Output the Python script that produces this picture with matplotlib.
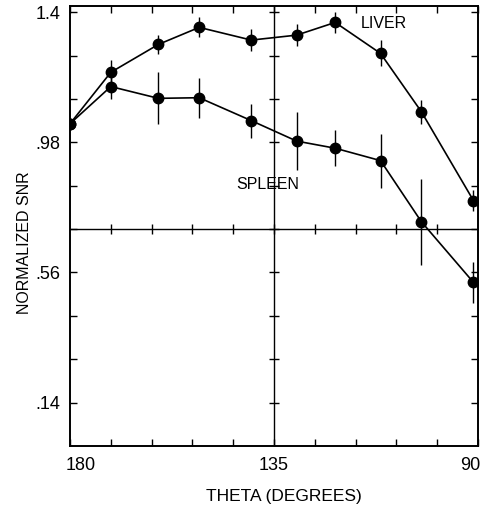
import matplotlib
matplotlib.use("Agg")
import matplotlib.pyplot as plt
import matplotlib.transforms as mtransforms
import numpy as np

plt.rcParams['font.family'] = ['Liberation Sans', 'DejaVu Sans']

# ---- data ----
theta = [180, 171, 160.5, 151.5, 140, 130, 121.5, 111.5, 102.5, 91]
liver = [1.04, 1.206, 1.296, 1.351, 1.310, 1.326, 1.367, 1.267, 1.079, 0.792]
liver_err = [0.0, 0.039, 0.032, 0.032, 0.035, 0.035, 0.035, 0.042, 0.039, 0.035]
spleen = [1.04, 1.160, 1.122, 1.124, 1.050, 0.984, 0.961, 0.921, 0.724, 0.528]
spleen_err = [0.0, 0.039, 0.084, 0.065, 0.055, 0.094, 0.058, 0.087, 0.139, 0.065]

x_ticks = [180, 171, 162, 153, 144, 135, 126, 117, 108, 99, 90]
x_labels = ['180', '', '', '', '', '135', '', '', '', '', '90']
y_ticks = [0.14, 0.28, 0.42, 0.56, 0.70, 0.84, 0.98, 1.12, 1.26, 1.40]
y_labels = ['.14', '', '', '.56', '', '', '.98', '', '', '1.4']
cross_x = 135
cross_y = 0.70

fig = plt.figure(figsize=(4.82, 5.08), dpi=100)
ax = fig.add_axes([70/482, 1-446/508, 408/482, 440/508])

ax.set_xlim(180, 90)
ax.set_ylim(0, 1.42)

# crosshair lines with small ticks
ax.axvline(cross_x, color='black', lw=1.0, zorder=1)
ax.axhline(cross_y, color='black', lw=1.0, zorder=1)
ax.plot([cross_x]*len(y_ticks), y_ticks, linestyle='none', marker='_',
        markersize=7, color='black', mew=1.0, zorder=1)
ax.plot(x_ticks[1:-1], [cross_y]*(len(x_ticks)-2), linestyle='none', marker='|',
        markersize=7, color='black', mew=1.0, zorder=1)

for y, e in [(liver, liver_err), (spleen, spleen_err)]:
    ax.errorbar(theta, y, yerr=e, fmt='-o', color='black', lw=1.2,
                elinewidth=1.0, capsize=0, markersize=7.5, zorder=3)

ax.text(110.7, 1.365, 'LIVER', fontsize=11.5, ha='center', va='center')
ax.text(136.3, 0.844, 'SPLEEN', fontsize=11.5, ha='center', va='center')

ax.set_xticks(x_ticks)
ax.set_xticklabels(x_labels)
ax.set_yticks(y_ticks)
ax.set_yticklabels(y_labels)
ax.tick_params(axis='both', direction='in', length=5, width=1.0,
               top=True, right=True, labelsize=13, color='black')
ax.tick_params(axis='x', pad=8)
ax.tick_params(axis='y', pad=7)

for s in ax.spines.values():
    s.set_linewidth(1.4)

# shift edge x tick labels inward as in the reference
labs = ax.get_xticklabels()
labs[0].set_transform(labs[0].get_transform() +
                      mtransforms.ScaledTranslation(11/100, 0, fig.dpi_scale_trans))
labs[-1].set_transform(labs[-1].get_transform() +
                       mtransforms.ScaledTranslation(-8/100, 0, fig.dpi_scale_trans))

ax.set_xlabel('THETA (DEGREES)', fontsize=12.5, va='center')
ax.xaxis.set_label_coords((283.5-70)/408, (446-497)/440)
ax.set_ylabel('NORMALIZED SNR', fontsize=11.5, va='center')
ax.yaxis.set_label_coords((25-70)/408, (446-243)/440)

fig.savefig('out.png', dpi=100)
